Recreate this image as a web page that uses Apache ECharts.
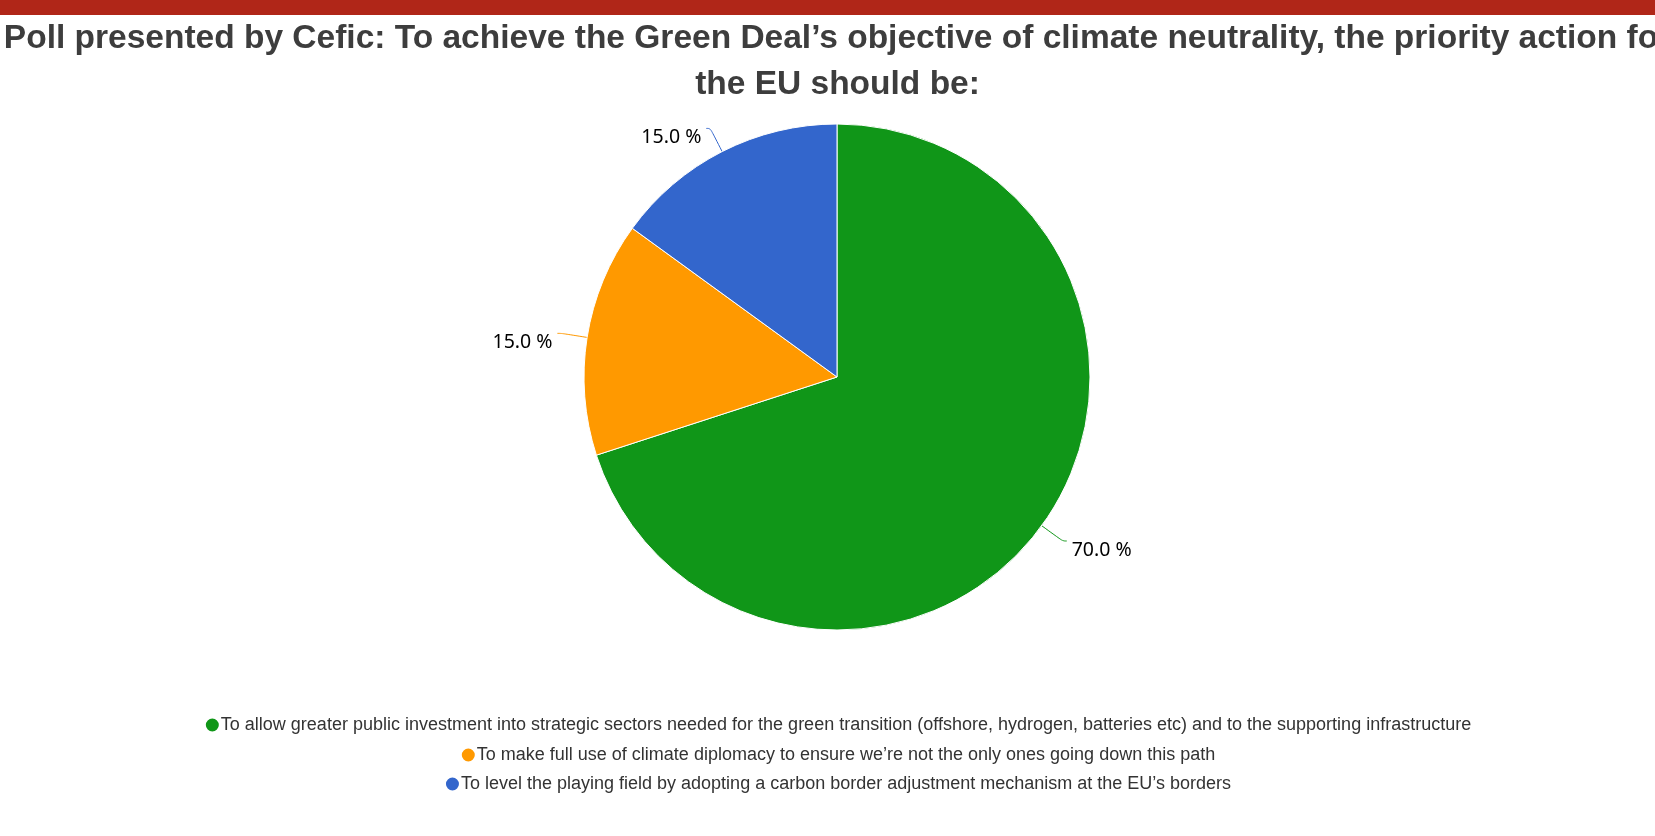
<!DOCTYPE html>
<html>
<head>
<meta charset="utf-8">
<style>
  html, body { margin: 0; padding: 0; background: #fff; overflow: hidden; }
  #main { width: 1675px; height: 836px; }
</style>
<script src="https://cdn.jsdelivr.net/npm/echarts@6/dist/echarts.min.js"></script>
</head>
<body>
<div id="main"></div>
<script>
var titleText = 'Poll presented by Cefic: To achieve the Green Deal\u2019s objective of climate neutrality, the priority action for\nthe EU should be:';
var categories = [
    'To allow greater public investment into strategic sectors needed for the green transition (offshore, hydrogen, batteries etc) and to the supporting infrastructure',
    'To make full use of climate diplomacy to ensure we\u2019re not the only ones going down this path',
    'To level the playing field by adopting a carbon border adjustment mechanism at the EU\u2019s borders'
];
var values = [70, 15, 15];
var colors = ['#109618', '#ff9900', '#3366cc'];

var myChart = echarts.init(document.getElementById('main'));

// one legend per row so every row is centred on its own
var legendTops = [711, 741, 770];
var legends = categories.map(function (name, i) {
    return {
        data: [name],
        left: 'center',
        top: legendTops[i],
        icon: 'circle',
        itemWidth: 15,
        itemHeight: 15,
        selectedMode: false,
        textStyle: {
            color: '#333',
            fontSize: 18,
            fontFamily: 'Liberation Sans, Arial, sans-serif',
            padding: [0, 0, 0, -4]
        }
    };
});

var option = {
    backgroundColor: '#fff',
    color: colors,
    title: {
        text: titleText,
        left: 'center',
        top: 11,
        textStyle: {
            color: '#3d3d3d',
            fontSize: 33.5,
            fontWeight: 'bold',
            lineHeight: 46,
            fontFamily: 'Liberation Sans, Arial, sans-serif'
        }
    },
    legend: legends,
    graphic: [{
        type: 'rect',
        left: 0,
        top: 0,
        shape: { width: 1675, height: 15 },
        style: { fill: '#b02618' },
        silent: true
    }],
    series: [{
        type: 'pie',
        center: [837, 377],
        radius: 253,
        startAngle: 90,
        clockwise: true,
        animation: false,
        data: categories.map(function (name, i) {
            return { name: name, value: values[i] };
        }),
        itemStyle: {
            borderColor: '#fff',
            borderWidth: 1
        },
        label: {
            color: '#000',
            fontSize: 19.5,
            lineHeight: 18,
            fontFamily: 'Noto Sans, sans-serif',
            // empty first line pushes the text a little below the line end
            formatter: function (p) {
                return '\n' + p.percent.toFixed(1) + ' %';
            }
        },
        labelLine: {
            length: 26,
            length2: 4,
            smooth: 0.4,
            lineStyle: { width: 1 }
        },
        emphasis: { disabled: true }
    }]
};
myChart.setOption(option);
</script>
</body>
</html>
